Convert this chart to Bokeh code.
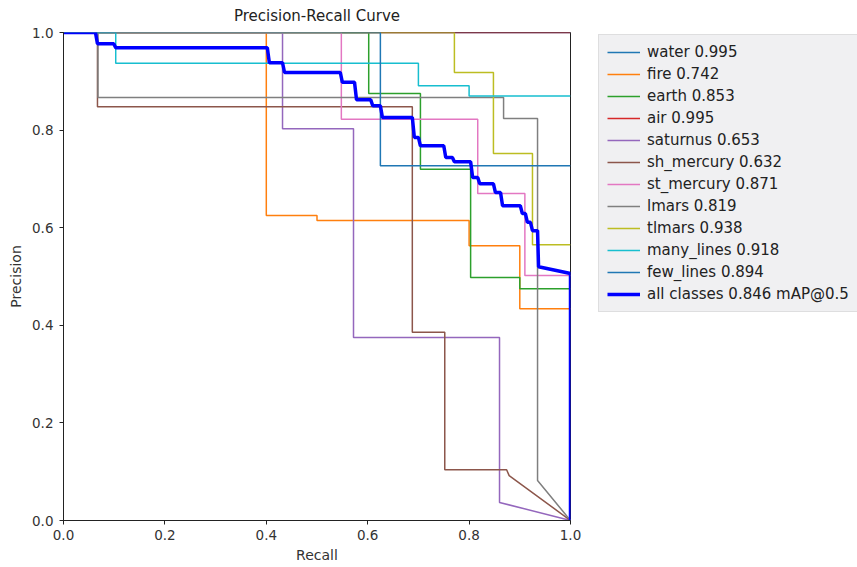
from bokeh.plotting import figure
from bokeh.models import Range1d, Legend, LegendItem, FixedTicker, PrintfTickFormatter
from bokeh.embed import file_html
from bokeh.resources import INLINE

CLASS_NAMES = ["water", "fire", "earth", "air", "saturnus", "sh_mercury",
               "st_mercury", "lmars", "tlmars", "many_lines", "few_lines"]
CLASS_AP = [0.995, 0.742, 0.853, 0.995, 0.653, 0.632, 0.871, 0.819, 0.938, 0.918, 0.894]
CLASS_COLORS = ["#1f77b4", "#ff7f0e", "#2ca02c", "#d62728", "#9467bd", "#8c564b",
                "#e377c2", "#7f7f7f", "#bcbd22", "#17becf", "#1f77b4"]

water_r = [0.0, 1.0]
water_p = [1.0, 1.0]
fire_r = [0.0, 0.40, 0.40, 0.50, 0.50, 0.80, 0.80, 0.90, 0.90, 1.0]
fire_p = [1.0, 1.0, 0.625, 0.625, 0.615, 0.615, 0.563, 0.563, 0.434, 0.434]
earth_r = [0.0, 0.602, 0.602, 0.704, 0.704, 0.803, 0.803, 0.90, 0.90, 1.0]
earth_p = [1.0, 1.0, 0.875, 0.875, 0.72, 0.72, 0.498, 0.498, 0.475, 0.475]
air_r = [0.0, 1.0]
air_p = [1.0, 1.0]
saturnus_r = [0.0, 0.432, 0.432, 0.572, 0.572, 0.86, 0.86, 1.0]
saturnus_p = [1.0, 1.0, 0.803, 0.803, 0.375, 0.375, 0.037, 0.0]
sh_mercury_r = [0.0, 0.067, 0.067, 0.688, 0.688, 0.752, 0.752, 0.874, 0.879, 1.0]
sh_mercury_p = [1.0, 1.0, 0.848, 0.848, 0.386, 0.386, 0.104, 0.104, 0.092, 0.0]
st_mercury_r = [0.0, 0.548, 0.548, 0.817, 0.817, 0.91, 0.91, 1.0]
st_mercury_p = [1.0, 1.0, 0.822, 0.822, 0.67, 0.67, 0.502, 0.502]
lmars_r = [0.0, 0.068, 0.068, 0.868, 0.868, 0.935, 0.935, 1.0]
lmars_p = [1.0, 1.0, 0.867, 0.867, 0.824, 0.824, 0.082, 0.0]
tlmars_r = [0.0, 0.771, 0.771, 0.848, 0.848, 0.925, 0.925, 1.0]
tlmars_p = [1.0, 1.0, 0.918, 0.918, 0.752, 0.752, 0.565, 0.565]
many_lines_r = [0.0, 0.103, 0.103, 0.70, 0.70, 0.80, 0.80, 1.0]
many_lines_p = [1.0, 1.0, 0.937, 0.937, 0.891, 0.891, 0.87, 0.87]
few_lines_r = [0.0, 0.625, 0.625, 1.0]
few_lines_p = [1.0, 1.0, 0.727, 0.727]

all_r = [0, 0.063, 0.067, 0.099, 0.103, 0.402, 0.406, 0.432, 0.436, 0.546, 0.550,
         0.574, 0.578, 0.606, 0.610, 0.625, 0.629, 0.688, 0.692, 0.700, 0.704,
         0.750, 0.754, 0.767, 0.771, 0.803, 0.807, 0.817, 0.821, 0.848, 0.852,
         0.862, 0.866, 0.901, 0.905, 0.911, 0.915, 0.921, 0.925, 0.935, 0.937, 1.0, 1.0]
all_p = [1.0, 1.0, 0.977, 0.977, 0.969, 0.969, 0.938, 0.938, 0.918, 0.918, 0.898,
         0.898, 0.862, 0.862, 0.850, 0.850, 0.826, 0.826, 0.785, 0.785, 0.768,
         0.768, 0.744, 0.744, 0.735, 0.735, 0.703, 0.703, 0.690, 0.690, 0.672,
         0.672, 0.645, 0.645, 0.629, 0.629, 0.611, 0.611, 0.594, 0.594, 0.520, 0.506, 0.0]
ALL_MAP = 0.846

CURVES = [(water_r, water_p), (fire_r, fire_p), (earth_r, earth_p), (air_r, air_p),
          (saturnus_r, saturnus_p), (sh_mercury_r, sh_mercury_p),
          (st_mercury_r, st_mercury_p), (lmars_r, lmars_p), (tlmars_r, tlmars_p),
          (many_lines_r, many_lines_p), (few_lines_r, few_lines_p)]

TICKS = [0.0, 0.2, 0.4, 0.6, 0.8, 1.0]
FONT = "DejaVu Sans"

L, T, FW, FH = 63, 32, 507, 488
p = figure(frame_width=FW, frame_height=FH, output_backend="svg", toolbar_location=None,
           x_range=Range1d(0, 1), y_range=Range1d(0, 1),
           min_border_left=L, min_border_top=T, min_border_bottom=567 - T - FH,
           min_border_right=0,
           title="Precision-Recall Curve")
p.title.align = "center"
p.title.vertical_align = "top"
p.title.text_font = FONT
p.title.text_font_size = "15px"
p.title.text_font_style = "normal"
p.title.text_color = "#222222"
p.title.standoff = 11

p.grid.visible = False
p.outline_line_color = "#222222"
p.outline_line_width = 1
p.outline_line_alpha = 1
p.background_fill_color = "white"
p.border_fill_color = "white"

for ax in (p.xaxis, p.yaxis):
    ax.ticker = FixedTicker(ticks=TICKS)
    ax.formatter = PrintfTickFormatter(format="%.1f")
    ax.minor_tick_line_color = None
    ax.major_tick_out = 4
    ax.major_tick_in = 0
    ax.axis_line_color = "#222222"
    ax.major_tick_line_color = "#222222"
    ax.major_label_text_font = FONT
    ax.major_label_text_font_size = "13.5px"
    ax.major_label_text_color = "#333333"
    ax.axis_label_text_font = FONT
    ax.axis_label_text_font_size = "14px"
    ax.axis_label_text_font_style = "normal"
    ax.axis_label_text_color = "#333333"
p.xaxis.axis_label = "Recall"
p.yaxis.axis_label = "Precision"
p.xaxis.axis_label_standoff = 4
p.yaxis.axis_label_standoff = 5
p.xaxis.major_label_standoff = 5
p.yaxis.major_label_standoff = 6

items = []
for name, ap, color, (r, pr) in zip(CLASS_NAMES, CLASS_AP, CLASS_COLORS, CURVES):
    rend = p.line(r, pr, line_color=color, line_width=1.5)
    items.append(LegendItem(label=f"{name} {ap:.3f}", renderers=[rend]))
rend_all = p.line(all_r, all_p, line_color="#0000ff", line_width=3.5)
items.append(LegendItem(label=f"all classes {ALL_MAP:.3f} mAP@0.5", renderers=[rend_all]))

legend = Legend(items=items, location=(28, 208))
legend.background_fill_color = "#f0f0f2"
legend.background_fill_alpha = 1
legend.border_line_color = "#cccccc"
legend.label_text_font = FONT
legend.label_text_font_size = "15px"
legend.label_text_color = "#222222"
legend.glyph_width = 33
legend.glyph_height = 18
legend.label_height = 18
legend.spacing = 4
legend.padding = 8
legend.margin = 14
legend.label_standoff = 7
p.add_layout(legend, "right")

open("out.html", "w").write(file_html(p, INLINE))
